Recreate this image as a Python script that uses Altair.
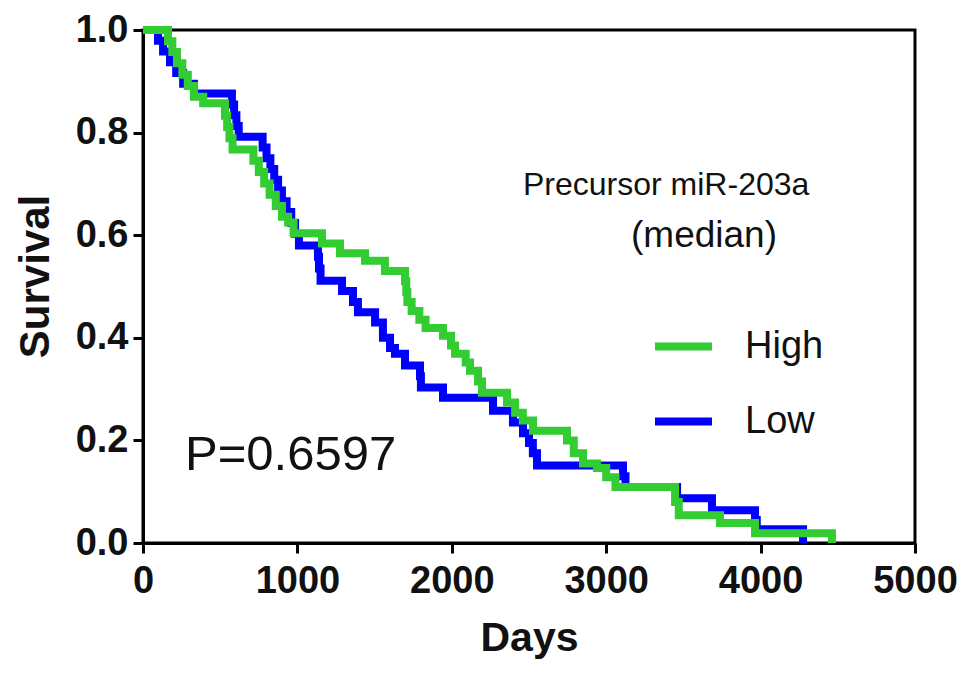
import altair as alt
import pandas as pd

# ---- data (Kaplan-Meier steps) ----
days_high = [0, 162, 190, 220, 255, 290, 330, 390, 531, 545, 560, 580, 715, 750, 785, 820,
             860, 900, 940, 975, 1159, 1276, 1438, 1567, 1697, 1705, 1712, 1740, 1790, 1830,
             1943, 1995, 2021, 2090, 2118, 2170, 2196, 2358, 2410, 2460, 2526, 2746, 2790,
             2850, 2940, 3000, 3060, 3446, 3470, 3737, 3964, 4462]
surv_high = [1.0, 0.978, 0.957, 0.935, 0.913, 0.891, 0.87, 0.857, 0.833, 0.811, 0.789, 0.767,
             0.745, 0.723, 0.701, 0.679, 0.657, 0.636, 0.625, 0.604, 0.584, 0.565, 0.55, 0.53,
             0.51, 0.49, 0.47, 0.452, 0.435, 0.419, 0.404, 0.385, 0.369, 0.352, 0.336, 0.315,
             0.293, 0.274, 0.254, 0.239, 0.219, 0.2, 0.175, 0.155, 0.146, 0.128, 0.109, 0.08,
             0.054, 0.039, 0.019, 0.0]

days_low = [0, 97, 130, 175, 215, 260, 330, 576, 590, 605, 620, 775, 800, 825, 850, 875, 900,
            930, 960, 985, 1010, 1133, 1140, 1150, 1289, 1360, 1392, 1503, 1554, 1600, 1632,
            1697, 1794, 1800, 1943, 2267, 2396, 2461, 2500, 2525, 2552, 3109, 3125, 3459,
            3685, 3964, 3975, 4275]
surv_low = [1.0, 0.979, 0.958, 0.937, 0.916, 0.895, 0.876, 0.855, 0.834, 0.813, 0.792, 0.771,
            0.75, 0.729, 0.708, 0.687, 0.666, 0.645, 0.624, 0.603, 0.58, 0.558, 0.535, 0.511,
            0.491, 0.47, 0.45, 0.43, 0.40, 0.38, 0.369, 0.346, 0.325, 0.303, 0.283, 0.258,
            0.235, 0.214, 0.195, 0.175, 0.151, 0.13, 0.109, 0.087, 0.064, 0.045, 0.027, 0.0]

groups = ["High", "Low"]
group_colors = ["#33cc33", "#0000ff"]
x_ticks = [0, 1000, 2000, 3000, 4000, 5000]
y_ticks = [0.0, 0.2, 0.4, 0.6, 0.8, 1.0]
legend_title_1 = "Precursor miR-203a"
legend_title_2 = "(median)"
p_label = "P=0.6597"

FONT = "Liberation Sans"

df = pd.concat([
    pd.DataFrame({"Days": days_high, "Survival": surv_high, "Group": "High"}),
    pd.DataFrame({"Days": days_low, "Survival": surv_low, "Group": "Low"}),
], ignore_index=True)

x_enc = alt.X("Days:Q", scale=alt.Scale(domain=[0, 5000], nice=False),
              axis=alt.Axis(values=x_ticks, format="d", title="Days", labelFlush=False))
y_enc = alt.Y("Survival:Q", scale=alt.Scale(domain=[0, 1], nice=False),
              axis=alt.Axis(values=y_ticks, format=".1f", title="Survival",
                            labelFlush=False, titleY=246))
color_enc = alt.Color(
    "Group:N",
    scale=alt.Scale(domain=groups, range=group_colors),
    legend=alt.Legend(orient="none", legendX=508, legendY=284, title=None,
                      symbolType="stroke", symbolSize=3249, symbolStrokeWidth=8,
                      labelFontSize=38, labelFont=FONT, labelColor="#111111",
                      labelOffset=29, rowPadding=23, padding=0),
)

base = alt.Chart(df)
low_line = base.transform_filter(alt.datum.Group == "Low").mark_line(
    interpolate="step-after", strokeWidth=8
).encode(x=x_enc, y=y_enc, color=color_enc)
high_line = base.transform_filter(alt.datum.Group == "High").mark_line(
    interpolate="step-after", strokeWidth=8
).encode(x=x_enc, y=y_enc, color=color_enc)

t1 = alt.Chart(pd.DataFrame({"t": [legend_title_1]})).mark_text(
    font=FONT, fontSize=32, align="left", baseline="middle", color="#111111"
).encode(text="t:N", x=alt.value(380), y=alt.value(155))
t2 = alt.Chart(pd.DataFrame({"t": [legend_title_2]})).mark_text(
    font=FONT, fontSize=37, align="center", baseline="middle", color="#111111"
).encode(text="t:N", x=alt.value(561), y=alt.value(206))
tp = alt.Chart(pd.DataFrame({"t": [p_label]})).mark_text(
    font=FONT, fontSize=49, align="left", baseline="middle", color="#111111"
).encode(text="t:N", x=alt.value(42), y=alt.value(425))

chart = alt.layer(low_line, high_line, t1, t2, tp).properties(
    width=772, height=513,
    autosize=alt.AutoSizeParams(type="none"),
    padding={"left": 135, "top": 22, "right": 46, "bottom": 120},
).configure_view(
    stroke="black", strokeWidth=3
).configure_axis(
    labelFont=FONT, labelFontSize=38, labelFontWeight="bold", labelColor="#111111",
    titleFont=FONT, titleFontSize=42, titleFontWeight="bold", titleColor="#111111",
    domainColor="black", domainWidth=3, tickColor="black", tickWidth=3, tickSize=10,
    grid=False,
).configure_axisX(
    labelPadding=9, titlePadding=18, titleFontSize=41
).configure_axisY(
    labelPadding=5, titlePadding=18
)

chart.save("out.html", embed_options={"renderer": "svg", "actions": False})
